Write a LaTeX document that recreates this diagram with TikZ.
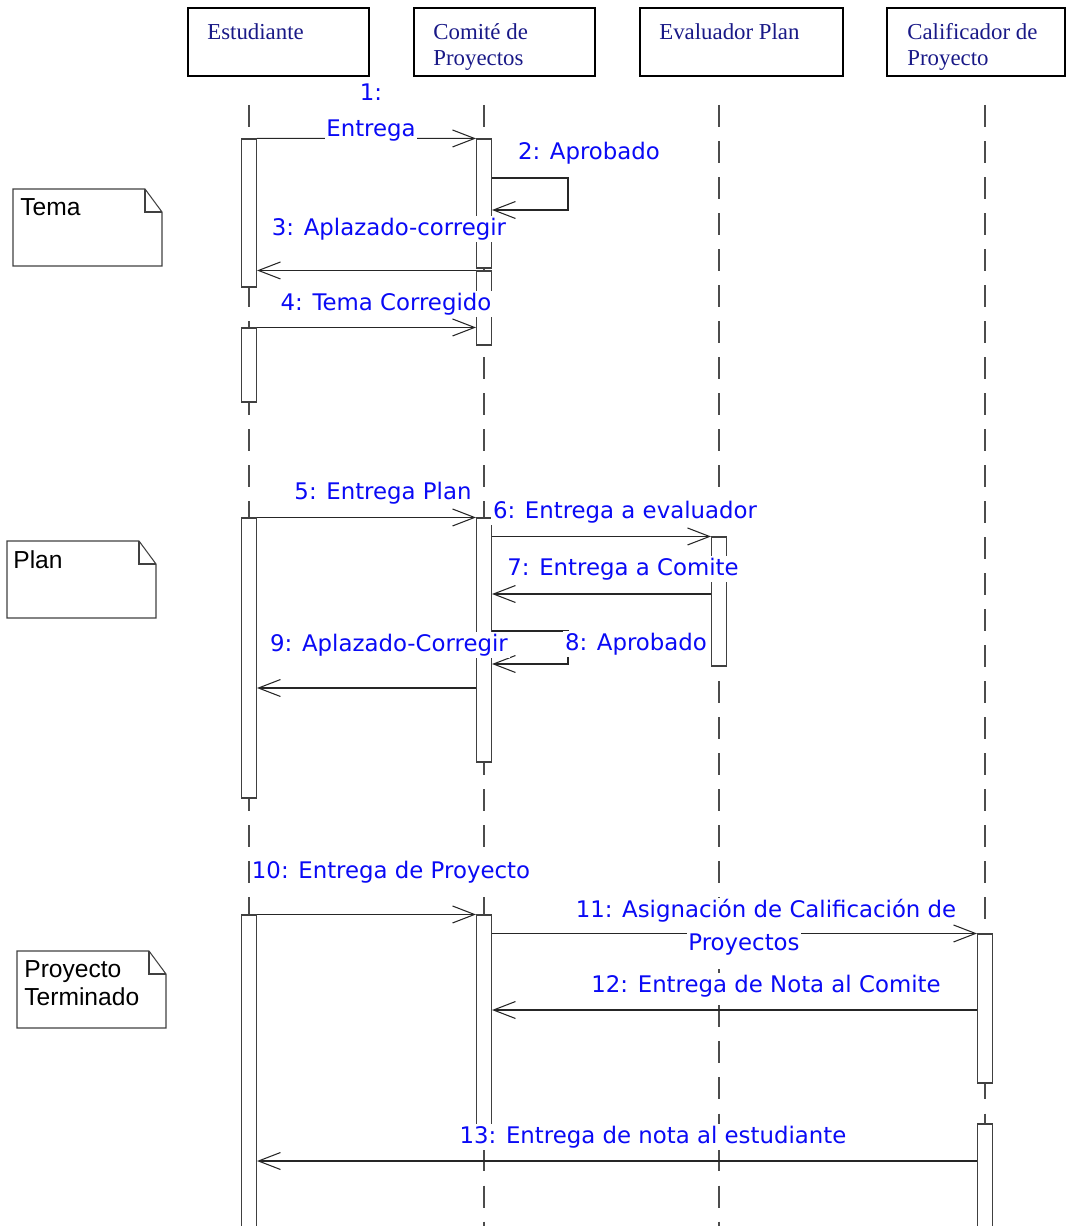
\documentclass[tikz,border=0pt]{standalone}
\usepackage{fontspec}
\setmainfont{Liberation Serif}
\newfontfamily\msgfont{DejaVu Sans}
\newfontfamily\notefont{Liberation Sans}
\usetikzlibrary{arrows.meta,fit,positioning}
\definecolor{N}{RGB}{25,25,135}
\definecolor{Bl}{RGB}{10,10,245}

\begin{document}
\begin{tikzpicture}[x=0.02cm, y=-0.02cm,
  head/.style={draw, line width=1.1pt, inner sep=0pt},
  headtxt/.style={font=\fontsize{13}{15}\selectfont, text=N, align=left, anchor=north west, inner sep=0pt},
  life/.style={draw=black!70, line width=0.6pt, dash pattern=on 12.5pt off 8pt},
  bar/.style={draw=black!75, fill=white, line width=0.6pt, inner sep=0pt},
  msg/.style={draw=black!85, line width=0.6pt, -{Straight Barb[length=4.4mm,width=3.4mm]}},
  lbl/.style={font=\msgfont\fontsize{13}{15.5}\selectfont, text=Bl, fill=white, inner sep=1pt},
  note/.style={draw=black!75, line width=0.6pt},
  notetxt/.style={font=\notefont\fontsize{14}{16}\selectfont, align=left, anchor=north west, inner sep=0pt}]
  \clip (0,0) rectangle (1066,1226);

  % objetos
  \node[head, fit={(188,8)(369,76)}] (est) {};
  \node[head, fit={(414,8)(595,76)}] (com) {};
  \node[head, fit={(640,8)(843,76)}] (eva) {};
  \node[head, fit={(887,8)(1065,76)}] (cal) {};
  \node[headtxt] (estT) at (207,23) {Estudiante};
  \node[headtxt] (comT) at (433,23) {Comité de\\Proyectos};
  \node[headtxt] (evaT) at (659,23) {Evaluador Plan};
  \node[headtxt] (calT) at (907,23) {Calificador de\\Proyecto};

  % lineas de vida
  \foreach \x in {249,484,719,985}
    \draw[life] (\x,105) -- (\x,1226);

  % activaciones
  \node[bar, fit={(241.5,139)(256.5,287)}] (e1) {};
  \node[bar, fit={(241.5,328)(256.5,402)}] (e2) {};
  \node[bar, fit={(241.5,518)(256.5,798)}] (e3) {};
  \node[bar, fit={(241.5,915)(256.5,1240)}] (e4) {};
  \node[bar, fit={(476.5,139)(491.5,268)}] (c1) {};
  \node[bar, fit={(476.5,271)(491.5,345)}] (c2) {};
  \node[bar, fit={(476.5,518)(491.5,762)}] (c3) {};
  \node[bar, fit={(476.5,915)(491.5,1140)}] (c4) {};
  \node[bar, fit={(711.5,537)(726.5,666)}] (v1) {};
  \node[bar, fit={(977.5,934)(992.5,1083)}] (k1) {};
  \node[bar, fit={(977.5,1124)(992.5,1240)}] (k2) {};

  \coordinate (m2) at (568,178);
  \coordinate (m2b) at (568,210);
  \coordinate (m7) at (600,594);
  \coordinate (m8) at (568,631);
  \coordinate (m8b) at (568,664);
  \coordinate (m9) at (400,688);
  \coordinate (m12) at (700,1010);
  \coordinate (m13) at (600,1161);

  % mensajes
  \draw[msg] (e1.north east) -- (c1.north west);
  \draw[msg] (c1.east |- m2) -- (m2) -- (m2b) -- (c1.east |- m2b);
  \draw[msg] (c2.north west) -- (e1.east |- c2.north);
  \draw[msg] (e2.north east) -- (c2.west |- e2.north);
  \draw[msg] (e3.north east) -- (c3.north west);
  \draw[msg] (c3.east |- v1.north) -- (v1.north west);
  \draw[msg] (v1.west |- m7) -- (c3.east |- m7);
  \draw[msg] (c3.east |- m8) -- (m8) -- (m8b) -- (c3.east |- m8b);
  \draw[msg] (c3.west |- m9) -- (e3.east |- m9);
  \draw[msg] (e4.north east) -- (c4.north west);
  \draw[msg] (c4.east |- k1.north) -- (k1.north west);
  \draw[msg] (k1.west |- m12) -- (c4.east |- m12);
  \draw[msg] (k2.west |- m13) -- (e4.east |- m13);

  % etiquetas
  \node[lbl, align=center] (l1) at (371,113) {1:\\[5pt]Entrega};
  \node[lbl] (l2) at (589,153) {2: Aprobado};
  \node[lbl] (l3) at (389,229) {3: Aplazado-corregir};
  \node[lbl] (l4) at (386,304) {4: Tema Corregido};
  \node[lbl] (l5) at (383,493) {5: Entrega Plan};
  \node[lbl] (l6) at (625,512) {6: Entrega a evaluador};
  \node[lbl] (l7) at (623,569) {7: Entrega a Comite};
  \node[lbl] (l8) at (636,644) {8: Aprobado};
  \node[lbl] (l9) at (389,645) {9: Aplazado-Corregir};
  \node[lbl] (l10) at (391,872) {10: Entrega de Proyecto};
  \node[lbl] (l11) at (766,911) {11: Asignación de Calificación de};
  \node[lbl] (l11b) at (744,945) {Proyectos};
  \node[lbl] (l12) at (766,986) {12: Entrega de Nota al Comite};
  \node[lbl] (l13) at (653,1137) {13: Entrega de nota al estudiante};

  % notas
  \draw[note] (13,189) -- (145,189) -- (162,212) -- (162,266) -- (13,266) -- cycle;
  \draw[note] (145,189) -- (145,212) -- (162,212);
  \node[notetxt] (tema) at (20,198) {Tema};
  \draw[note] (7,541) -- (139,541) -- (156,564) -- (156,618) -- (7,618) -- cycle;
  \draw[note] (139,541) -- (139,564) -- (156,564);
  \node[notetxt] (plan) at (13,550) {Plan};
  \draw[note] (17,951) -- (149,951) -- (166,974) -- (166,1028) -- (17,1028) -- cycle;
  \draw[note] (149,951) -- (149,974) -- (166,974);
  \node[notetxt] (proy) at (24,960) {Proyecto\\Terminado};
\end{tikzpicture}
\end{document}
